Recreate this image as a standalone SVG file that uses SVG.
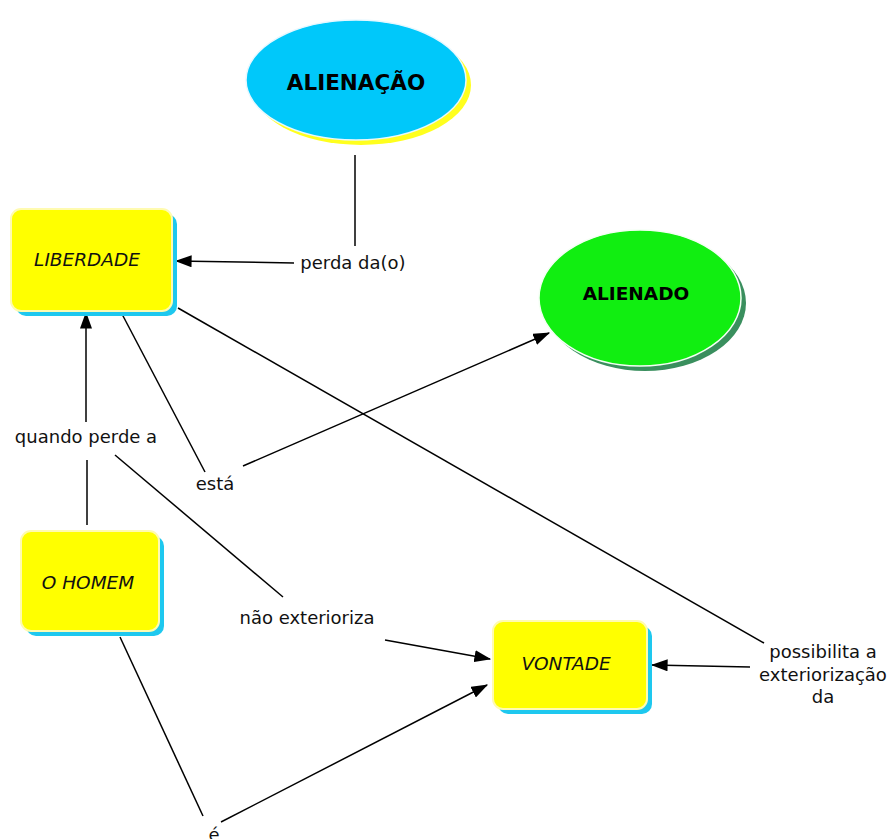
<svg xmlns="http://www.w3.org/2000/svg" width="894" height="839" viewBox="0 0 894 839">
  <style>
    .lbl { font-family: "DejaVu Sans", Verdana, sans-serif; font-size: 18px; fill: #111; text-anchor: middle; }
    .box-t { font-family: "DejaVu Sans", Verdana, sans-serif; font-size: 18.5px; font-style: italic; fill: #111; text-anchor: middle; }
    .ell-t { font-family: "DejaVu Sans", Verdana, sans-serif; font-weight: bold; fill: #000; text-anchor: middle; }
    .box { fill: #ffff00; stroke: #fffbb0; stroke-width: 2; }
    .box-sh { fill: #1ec8ef; }
    .conn line { stroke: #000; stroke-width: 1.5; fill: none; }
  </style>
  <defs>
    <marker id="arr" viewBox="0 0 14 10" refX="13" refY="5" markerWidth="17" markerHeight="12" markerUnits="userSpaceOnUse" orient="auto">
      <path d="M0,0 L14,5 L0,10 Z" fill="#000"/>
    </marker>
  </defs>
  <rect width="894" height="839" fill="#fff"/>

  <!-- connectors -->
  <g class="conn">
    <line x1="355" y1="155" x2="355" y2="246"/>
    <line x1="294" y1="263" x2="176" y2="261" marker-end="url(#arr)"/>
    <line x1="87" y1="525" x2="87" y2="460"/>
    <line x1="86" y1="422" x2="86" y2="313" marker-end="url(#arr)"/>
    <line x1="122" y1="314" x2="205" y2="472"/>
    <line x1="243" y1="466" x2="549" y2="333" marker-end="url(#arr)"/>
    <line x1="115" y1="455" x2="283" y2="597"/>
    <line x1="385" y1="640" x2="490" y2="659" marker-end="url(#arr)"/>
    <line x1="178" y1="308" x2="764" y2="643"/>
    <line x1="750" y1="667" x2="652" y2="665" marker-end="url(#arr)"/>
    <line x1="120" y1="637" x2="203" y2="816"/>
    <line x1="221" y1="822" x2="487" y2="685" marker-end="url(#arr)"/>
  </g>

  <!-- link labels -->
  <g id="labels">
    <text class="lbl" x="353" y="269">perda da(o)</text>
    <text class="lbl" x="86" y="443">quando perde a</text>
    <text class="lbl" x="215" y="490">está</text>
    <text class="lbl" x="307" y="624">não exterioriza</text>
    <text class="lbl" x="823" y="658">possibilita a</text>
    <text class="lbl" x="823" y="681">exteriorização</text>
    <text class="lbl" x="823" y="703">da</text>
    <text class="lbl" x="214" y="841">é</text>
  </g>

  <g id="alienacao">
    <ellipse cx="361" cy="85" rx="110" ry="60" fill="#ffff1e"/>
    <ellipse cx="356" cy="80" rx="110" ry="60" fill="#00c8fa" stroke="#e8f8ff" stroke-width="1.5"/>
    <text class="ell-t" x="356" y="90" style="font-size:21.5px">ALIENAÇÃO</text>
  </g>

  <g id="alienado">
    <ellipse cx="645" cy="303" rx="101" ry="68" fill="#3a8f5e"/>
    <ellipse cx="640" cy="298" rx="101" ry="68" fill="#11ee11" stroke="#f4fff4" stroke-width="1.5"/>
    <text class="ell-t" x="636" y="300" style="font-size:18.5px">ALIENADO</text>
  </g>

  <g id="liberdade">
    <rect class="box-sh" x="16" y="214" width="161" height="102" rx="10"/>
    <rect class="box" x="11" y="209" width="161" height="102" rx="10"/>
    <text class="box-t" x="87" y="266">LIBERDADE</text>
  </g>

  <g id="o-homem">
    <rect class="box-sh" x="26" y="536" width="138" height="100" rx="10"/>
    <rect class="box" x="21" y="531" width="138" height="100" rx="10"/>
    <text class="box-t" x="88" y="589">O HOMEM</text>
  </g>

  <g id="vontade">
    <rect class="box-sh" x="498" y="626" width="154" height="88" rx="10"/>
    <rect class="box" x="493" y="621" width="154" height="88" rx="10"/>
    <text class="box-t" x="566" y="670">VONTADE</text>
  </g>
</svg>
